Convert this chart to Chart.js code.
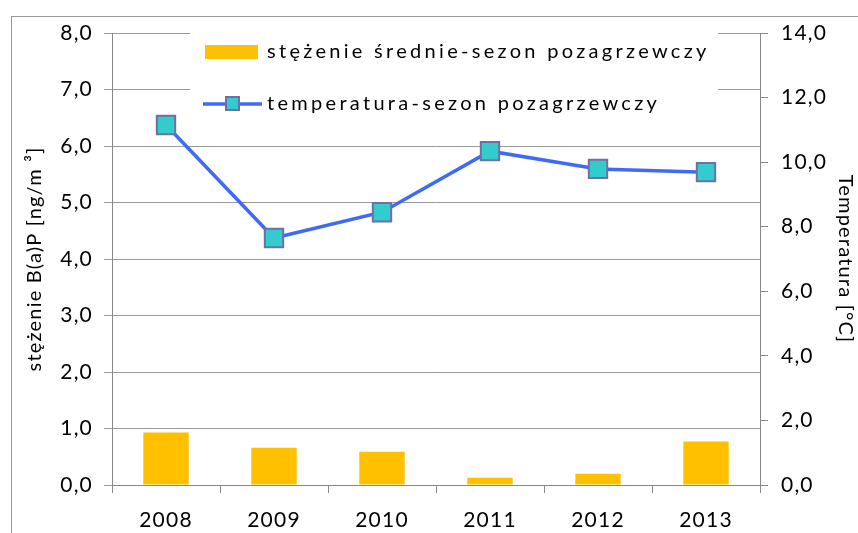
<!DOCTYPE html>
<html>
<head>
<meta charset="utf-8">
<script src="https://cdn.jsdelivr.net/npm/chart.js@4"></script>
<style>
  html, body { margin: 0; padding: 0; background: #fff; }
  #wrap { position: relative; width: 858px; height: 533px; }
  #frame { position: absolute; left: 11px; top: 16px; right: -5px; bottom: -5px;
           border-top: 1px solid #999; border-left: 1px solid #999; }
  canvas { position: absolute; left: 0; top: 0; }
</style>
</head>
<body>
<div id="wrap">
  <div id="frame"></div>
  <canvas id="myChart" width="858" height="533"></canvas>
</div>
<script>
const years = ['2008', '2009', '2010', '2011', '2012', '2013'];
const stezenie = [0.93, 0.66, 0.59, 0.13, 0.20, 0.77];
const temperatura = [11.15, 7.65, 8.45, 10.34, 9.79, 9.69];
const barLabel = 'stężenie średnie-sezon pozagrzewczy';
const lineLabel = 'temperatura-sezon pozagrzewczy';

const fontName = 'Lato, "Open Sans", sans-serif';
const comma = v => v.toFixed(1).replace('.', ',');

// the original text is set rather loose
const spacing = {
  id: 'spacing',
  beforeUpdate(chart) { chart.ctx.letterSpacing = '1.2px'; },
  beforeDraw(chart) { chart.ctx.letterSpacing = '1.2px'; }
};

// legend drawn inside the plot, on a white box that hides the grid
const boxLegend = {
  id: 'boxLegend',
  beforeDatasetsDraw(chart) {
    const c = chart.ctx;
    c.save();
    c.fillStyle = '#fff';
    c.fillRect(190, 26, 528, 96);

    c.font = '20px ' + fontName;
    c.letterSpacing = '3.3px';
    c.textBaseline = 'middle';

    c.fillStyle = '#FFC000';
    c.fillRect(205, 45, 53, 14);
    c.fillStyle = '#000';
    c.fillText(barLabel, 267, 52);

    c.strokeStyle = '#3F6AF5';
    c.lineWidth = 3.5;
    c.beginPath();
    c.moveTo(203, 104);
    c.lineTo(262, 104);
    c.stroke();
    c.fillStyle = '#33CCCC';
    c.strokeStyle = '#6F6FA8';
    c.lineWidth = 2;
    c.fillRect(226, 97, 13, 13);
    c.strokeRect(226, 97, 13, 13);
    c.fillStyle = '#000';
    c.fillText(lineLabel, 267, 104);
    c.restore();
  }
};

const ctx = document.getElementById('myChart');

new Chart(ctx, {
  type: 'bar',
  data: {
    labels: years,
    datasets: [{
      type: 'line',
      label: lineLabel,
      data: temperatura,
      yAxisID: 'yT',
      borderColor: '#3F6AF5',
      borderWidth: 3.5,
      pointStyle: 'rect',
      pointRadius: 13,
      pointBackgroundColor: '#33CCCC',
      pointBorderColor: '#6F6FA8',
      pointBorderWidth: 2,
      tension: 0,
      order: 0
    }, {
      label: barLabel,
      data: stezenie,
      yAxisID: 'y',
      backgroundColor: '#FFC000',
      categoryPercentage: 1,
      barPercentage: 0.42,
      order: 1
    }]
  },
  options: {
    responsive: false,
    animation: false,
    layout: { padding: { top: 33, left: 0, right: 0, bottom: 0 } },
    plugins: {
      legend: { display: false },
      tooltip: { enabled: false }
    },
    scales: {
      x: {
        grid: { drawOnChartArea: false, offset: true, tickLength: 8, color: '#888' },
        border: { color: '#888' },
        ticks: { color: '#000', padding: 15, font: { family: fontName, size: 21 } },
        afterFit: s => { s.height = 48; }
      },
      y: {
        position: 'left',
        min: 0, max: 8,
        ticks: { stepSize: 1, color: '#000', padding: 11, callback: v => comma(v),
                 font: { family: fontName, size: 21 } },
        grid: { color: '#999', tickLength: 8 },
        border: { color: '#888' },
        title: { display: true, text: 'stężenie B(a)P [ng/m ³]', color: '#000',
                 padding: { top: 23, bottom: 0 }, font: { family: fontName, size: 20 } },
        afterFit: s => { s.width = 112; }
      },
      yT: {
        position: 'right',
        min: 0, max: 14,
        ticks: { stepSize: 2, color: '#000', padding: 13, callback: v => comma(v),
                 font: { family: fontName, size: 21 } },
        grid: { drawOnChartArea: false, color: '#888', tickLength: 8 },
        border: { color: '#888' },
        title: { display: true, text: 'Temperatura [°C]', color: '#000',
                 padding: { top: 1, bottom: 0 }, font: { family: fontName, size: 20 } },
        afterFit: s => { s.width = 98; }
      }
    }
  },
  plugins: [spacing, boxLegend]
});
</script>
</body>
</html>
